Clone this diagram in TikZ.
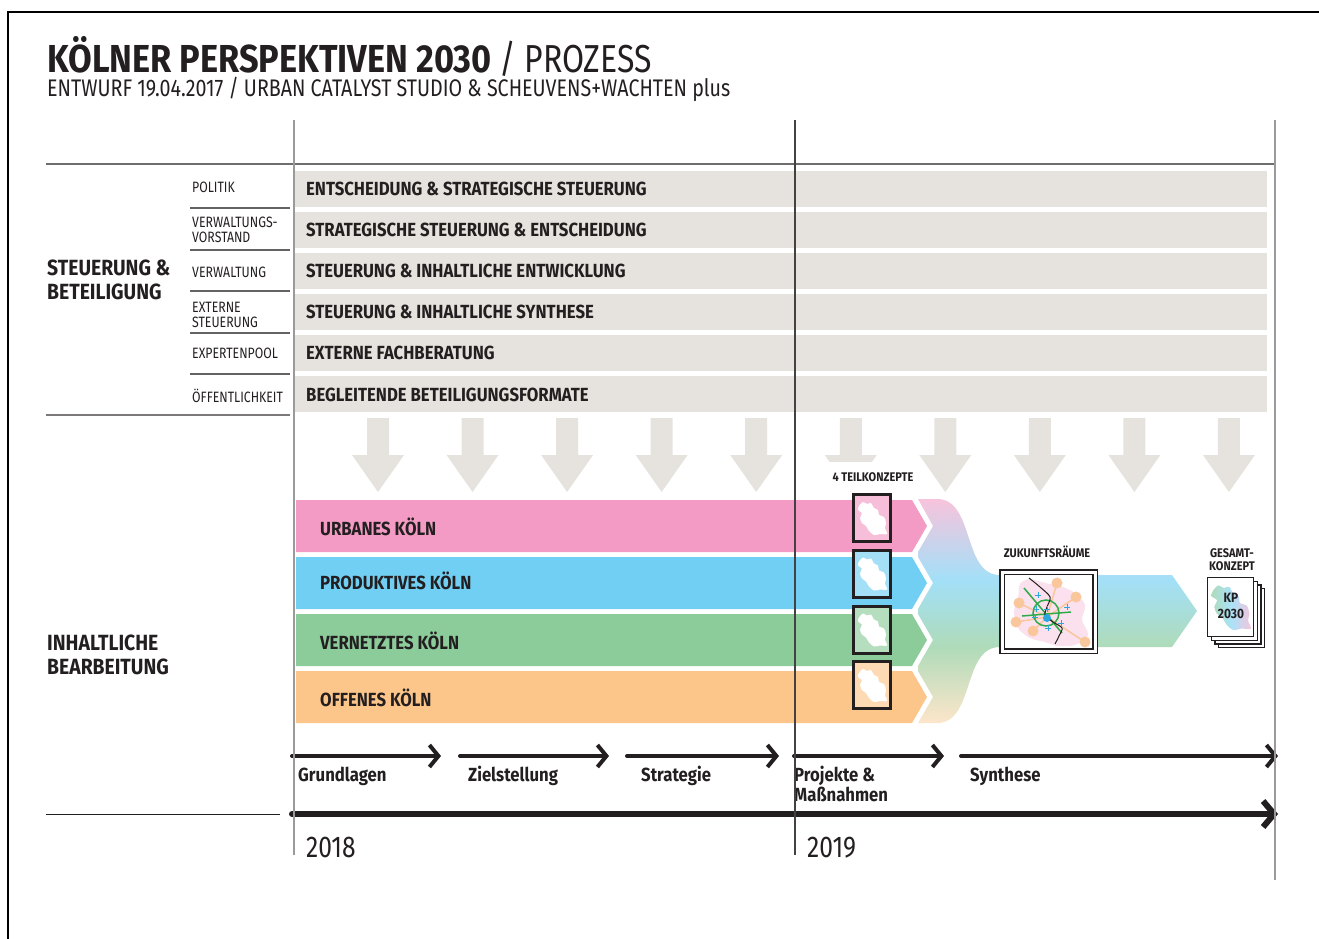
\documentclass[tikz,border=0pt]{standalone}
\usepackage{fontspec}
\setmainfont{Fira Sans}[FakeStretch=0.82, BoldFeatures={FakeStretch=0.88}]
\usepackage{tikz}
\usetikzlibrary{arrows.meta}
\definecolor{ink}{HTML}{231F20}
\definecolor{balken}{HTML}{E6E2DD}
\definecolor{linie}{HTML}{9A9A9A}
\definecolor{urban}{HTML}{F39BC4}
\definecolor{produktiv}{HTML}{71CFF4}
\definecolor{vernetzt}{HTML}{8CCC9B}
\definecolor{offen}{HTML}{FCC68A}
\definecolor{zentrum}{HTML}{2AA7E1}
\definecolor{gruen}{HTML}{2DAA4A}
\definecolor{kreis}{HTML}{FAC69C}
\colorlet{tfurban}{urban!60!white}
\colorlet{tfproduktiv}{produktiv!65!white}
\colorlet{tfvernetzt}{vernetzt!70!white}
\colorlet{tfoffen}{offen!45!white}
\pgfdeclareverticalshading{trichter}{100bp}{color(0bp)=(tfoffen); color(25bp)=(tfoffen); color(42bp)=(tfvernetzt); color(57bp)=(tfproduktiv); color(75bp)=(tfurban); color(100bp)=(tfurban)}
\newcommand{\koeln}{(-13,-12) (-9,-16) (-5,-14) (-1,-15) (2,-10) (6,-8) (7,-3) (12,-1) (14,5) (13,10) (15,16) (8,16) (2,17) (-3,13) (-6,8) (-10,5) (-12,0) (-10,-5) (-14,-8)}

\begin{document}
\begin{tikzpicture}[x=1pt, y=-1pt,
    every node/.style={text=ink, inner sep=0pt},
    zeile/.style={anchor=base west, font=\fontsize{19}{19}\selectfont\bfseries},
    rolle/.style={anchor=base west, align=left, font=\fontsize{15}{15}\selectfont},
    bereich/.style={anchor=base west, align=left, font=\fontsize{22}{24}\selectfont\bfseries},
    strang/.style={anchor=base west, font=\fontsize{19}{19}\selectfont\bfseries},
    phase/.style={anchor=base west, align=left, font=\fontsize{19}{20}\selectfont\bfseries},
    jahr/.style={anchor=base west, font=\fontsize{30}{30}\selectfont},
    klein/.style={anchor=base, align=center, font=\fontsize{12.5}{13}\selectfont\bfseries},
    zeit/.style={draw=ink, line width=4pt, line cap=round, -{Straight Barb[length=9pt, width=22pt]}},
    teil/.style={draw=ink, line width=3pt, minimum width=37pt, minimum height=47pt},
    seite/.style={draw=ink, fill=white, line width=1.2pt, minimum width=46pt, minimum height=59pt}]
  \useasboundingbox (0,0) rectangle (1319,939);
  \draw[line width=2pt] (8,939) -- (8,12) -- (1319,12);

  \node[anchor=base west] (titel) at (47,73) {\fontsize{39}{39}\selectfont\bfseries KÖLNER PERSPEKTIVEN 2030 \mdseries/ PROZESS};
  \node[anchor=base west] (untertitel) at (47,97) {\fontsize{24}{24}\selectfont ENTWURF 19.04.2017 / URBAN CATALYST STUDIO \& SCHEUVENS+WACHTEN plus};

  \foreach \oben in {171,212,253,294,335,376}
    \fill[balken] (295,\oben) rectangle (1267,{\oben+36});
  \node[zeile] (z1) at (306,195) {ENTSCHEIDUNG \& STRATEGISCHE STEUERUNG};
  \node[zeile] (z2) at (306,236) {STRATEGISCHE STEUERUNG \& ENTSCHEIDUNG};
  \node[zeile] (z3) at (306,277) {STEUERUNG \& INHALTLICHE ENTWICKLUNG};
  \node[zeile] (z4) at (306,318) {STEUERUNG \& INHALTLICHE SYNTHESE};
  \node[zeile] (z5) at (306,359) {EXTERNE FACHBERATUNG};
  \node[zeile] (z6) at (306,401) {BEGLEITENDE BETEILIGUNGSFORMATE};

  \node[rolle] (politik) at (192,192) {POLITIK};
  \node[rolle] (vorstand) at (192,242) {VERWALTUNGS-\\VORSTAND};
  \node[rolle] (verwaltung) at (192,277) {VERWALTUNG};
  \node[rolle] (extern) at (192,327) {EXTERNE\\STEUERUNG};
  \node[rolle] (pool) at (192,358) {EXPERTENPOOL};
  \node[rolle] (oeffentlich) at (192,402) {ÖFFENTLICHKEIT};
  \foreach \y in {208,250,291,333,374}
    \draw[ink!70, line width=1.2pt] (190,\y) -- (290,\y);

  \node[bereich] (steuerung) at (47,299) {STEUERUNG \&\\BETEILIGUNG};
  \node[bereich] (inhalt) at (47,674) {INHALTLICHE\\BEARBEITUNG};

  \foreach \i in {0,...,9} {
    \pgfmathsetmacro{\x}{378+94.55*\i}
    \fill[balken] ({\x-11},418) -- ({\x+11},418) -- ({\x+11},455) -- ({\x+26},455)
      -- (\x,492) -- ({\x-26},455) -- ({\x-11},455) -- cycle;
  }

  \shade[shading=trichter] (918,499) -- (937,499) .. controls (975,499) and (962,575) .. (1000,575)
    -- (1172,575) -- (1197,611) -- (1172,647) -- (1000,647)
    .. controls (962,647) and (975,723) .. (937,723) -- (918,723)
    -- (933,697) -- (918,671) -- (918,666) -- (933,640) -- (918,614) -- (918,609)
    -- (933,583) -- (918,557) -- (918,552) -- (933,526) -- cycle;

  \foreach \farbe/\oben in {urban/500,produktiv/557,vernetzt/614,offen/671}
    \fill[\farbe] (296,\oben) -- (912,\oben) -- (927,{\oben+26}) -- (912,{\oben+52}) -- (296,{\oben+52}) -- cycle;
  \node[strang] (urbanes) at (320,535) {URBANES KÖLN};
  \node[strang] (produktives) at (320,589) {PRODUKTIVES KÖLN};
  \node[strang] (vernetztes) at (320,649) {VERNETZTES KÖLN};
  \node[strang] (offenes) at (320,706) {OFFENES KÖLN};

  \node[klein, fill=white, inner xsep=6pt, inner ysep=10pt] (teilkonzepte) at (873,481) {4 TEILKONZEPTE};
  \foreach \farbe/\y/\n in {urban/518/1,produktiv/573.5/2,vernetzt/629.5/3,offen/685/4} {
    \node[teil, fill=\farbe!65!white] (tk\n) at (872,\y) {};
    \fill[white, shift={(tk\n.center)}] plot[smooth cycle] coordinates {\koeln};
  }

  \node[klein] (zukunft) at (1047,557) {ZUKUNFTSRÄUME};
  \node[draw=ink, fill=white, line width=1.6pt, double=white, double distance=3pt,
    minimum width=93pt, minimum height=79pt] (zr) at (1048.5,611.5) {};
  \fill[urban!30!white] plot[smooth cycle] coordinates {(1020,584) (1030,579) (1045,583) (1060,586)
    (1075,593) (1085,605) (1082,620) (1088,635) (1075,645) (1058,646) (1045,642) (1030,638)
    (1018,628) (1014,612) (1018,598)};
  \foreach \cx/\cy in {1057/583,1076/597,1019/603,1016/622,1033/631,1085/642} {
    \draw[kreis, line width=1.5pt] (1047,617) -- (\cx,\cy);
    \fill[kreis] (\cx,\cy) circle (5.5);
  }
  \draw[gruen, line width=1.5pt] (1046,613) circle (13);
  \draw[gruen, line width=1.5pt] (1024,588) -- (1062,633);
  \draw[gruen, line width=1.5pt] (1022,616) -- (1071,612);
  \draw[ink, line width=1pt] plot[smooth] coordinates {(1029,578) (1040,587) (1050,597) (1047,607)
    (1045,615) (1053,622) (1062,628) (1059,636) (1055,644)};
  \foreach \px/\py in {1038/595,1047/609,1067/607,1035/617,1061/623,1048/628,1036/609}
    \draw[zentrum, line width=0.9pt] ({\px-3},\py) -- ({\px+3},\py) ({\px},{\py-3}) -- ({\px},{\py+3});
  \fill[zentrum] (1047,618) circle (4);

  \node[klein] (gesamt) at (1232,570) {GESAMT-\\KONZEPT};
  \foreach \d in {3,2,1}
    \node[seite] at ({1230.5+3.7*\d},{607+3.7*\d}) {};
  \node[seite] (gk) at (1230.5,607) {};
  \shade[left color=vernetzt!70!white, right color=urban!60!white, middle color=produktiv!60!white,
    shift={(gk.center)}, scale=1.35] plot[smooth cycle] coordinates {\koeln};
  \node[anchor=base, align=center, font=\fontsize{13.5}{16}\selectfont\bfseries] (kp) at (1231,618) {KP\\2030};

  \coordinate (a1) at (292,756);  \coordinate (e1) at (441,756);
  \coordinate (a2) at (460,756);  \coordinate (e2) at (609,756);
  \coordinate (a3) at (627,756);  \coordinate (e3) at (779,756);
  \coordinate (a4) at (794,756);  \coordinate (e4) at (944,756);
  \coordinate (a5) at (961,756);  \coordinate (e5) at (1278,756);
  \foreach \n in {1,...,5}
    \draw[zeit] (a\n) -- (e\n);
  \node[phase] (grundlagen) at (298,781) {Grundlagen};
  \node[phase] (ziel) at (468,781) {Zielstellung};
  \node[phase] (strategie) at (641,781) {Strategie};
  \node[phase] (projekte) at (794,801) {Projekte \&\\Maßnahmen};
  \node[phase] (synthese) at (970,781) {Synthese};

  \coordinate (t0) at (292,814);
  \coordinate (t1) at (1278,814);
  \draw[zeit, line width=6pt, -{Straight Barb[length=11pt, width=26pt]}] (t0) -- (t1);
  \node[jahr] (j2018) at (306,857) {2018};
  \node[jahr] (j2019) at (807,857) {2019};

  \draw[ink!65, line width=1.5pt] (46,164) -- (1275,164);
  \draw[ink!60, line width=1.5pt] (46,415) -- (290,415);
  \draw[ink, line width=1pt] (46,814) -- (280,814);
  \draw[linie, line width=1.3pt] (294,120) -- (294,855);
  \draw[ink!85, line width=1.2pt] (795,120) -- (795,855);
  \draw[linie, line width=2pt] (1275,120) -- (1275,880);
\end{tikzpicture}
\end{document}
